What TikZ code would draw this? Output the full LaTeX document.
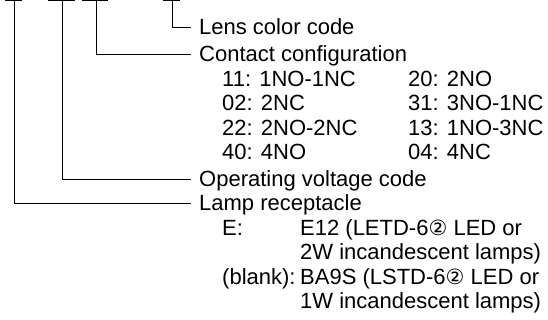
\documentclass[tikz,border=0pt]{standalone}
\usepackage{fontspec}
\setmainfont{Liberation Sans}
\newfontfamily\symfont{DejaVu Sans}
\usetikzlibrary{positioning, calc}
\newcommand{\circtwo}{{\symfont\fontsize{21}{24}\selectfont ②}}

\begin{document}
\begin{tikzpicture}[
    x=1pt, y=-1pt,
    codebar/.style={line width=0.9pt},
    leader/.style={line width=0.9pt},
    txt/.style={anchor=base west, inner sep=0pt, font=\fontsize{22}{25}\selectfont},
]
    \useasboundingbox (0,0) rectangle (548,320);

    % Code positions along the top
    \draw[codebar] (5,0.6) -- (22,0.6);
    \draw[codebar] (48,0.6) -- (75,0.6);
    \draw[codebar] (82,0.6) -- (108,0.6);
    \draw[codebar] (163,0.6) -- (180,0.6);
    \coordinate (lamptop) at (14,0.6);
    \coordinate (volttop) at (62,0.6);
    \coordinate (conttop) at (96,0.6);
    \coordinate (lenstop) at (172,0.6);

    % Headings
    \node[txt] (lens) at (199,34.5) {Lens color code};
    \node[txt] (contact) at (199,61.5) {Contact configuration};
    \node[txt] (volt) at (199,186.5) {Operating voltage code};
    \node[txt] (lamp) at (199,210.8) {Lamp receptacle};

    % Contact configuration codes
    \node[txt] (c11) at (222,86.2) {11: 1NO-1NC};
    \node[txt] (c02) at (222,110.8) {02: 2NC};
    \node[txt] (c22) at (222,135.4) {22: 2NO-2NC};
    \node[txt] (c40) at (222,160.0) {40: 4NO};
    \node[txt] (c20) at (408,86.2) {20: 2NO};
    \node[txt] (c31) at (408,110.8) {31: 3NO-1NC};
    \node[txt] (c13) at (408,135.4) {13: 1NO-3NC};
    \node[txt] (c04) at (408,160.0) {04: 4NC};

    % Lamp receptacle codes
    \node[txt] (le) at (222,235.2) {E:};
    \node[txt] (le1) at (300,235.2) {E12 (LETD-6\circtwo{} LED or};
    \node[txt] (le2) at (300,259.6) {2W incandescent lamps)};
    \node[txt] (lb) at (222,284.0) {(blank):};
    \node[txt] (lb1) at (300,284.0) {BA9S (LSTD-6\circtwo{} LED or};
    \node[txt] (lb2) at (300,308.4) {1W incandescent lamps)};

    % Leaders
    \draw[leader] (lenstop) |- ($(lens.base west)+(-8,-7.5)$);
    \draw[leader] (conttop) |- ($(contact.base west)+(-8,-7.5)$);
    \draw[leader] (volttop) |- ($(volt.base west)+(-8,-7.5)$);
    \draw[leader] (lamptop) |- ($(lamp.base west)+(-8,-7.5)$);
\end{tikzpicture}
\end{document}
